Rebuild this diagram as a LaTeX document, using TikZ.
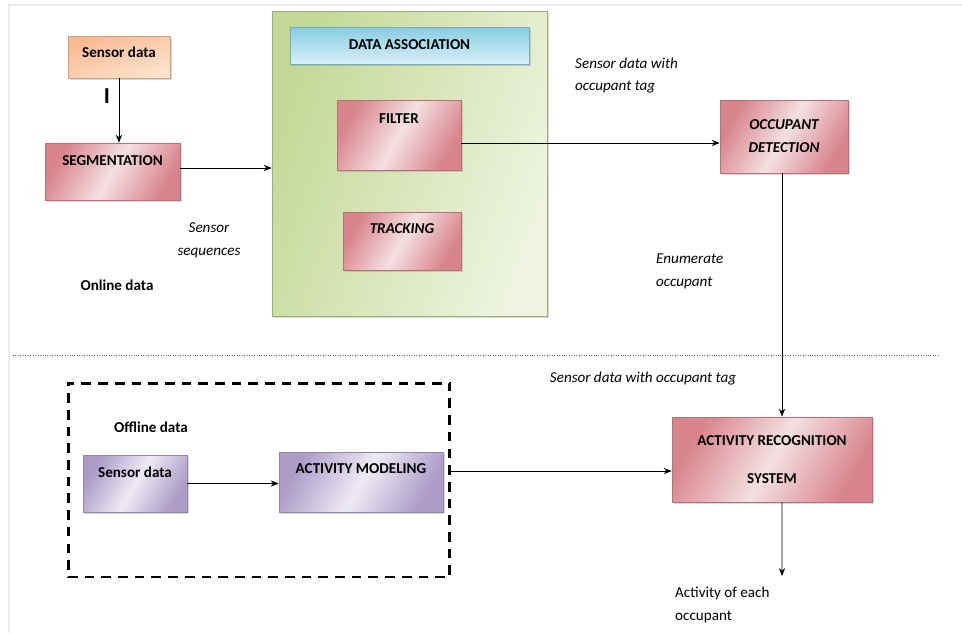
\documentclass[tikz,border=0pt]{standalone}
\usepackage{fontspec}
\setmainfont{Carlito}
\usetikzlibrary{shadows,arrows.meta}

\definecolor{pinkD}{RGB}{216,132,140}
\definecolor{pinkL}{RGB}{244,224,226}
\definecolor{orangeD}{RGB}{250,186,146}
\definecolor{orangeL}{RGB}{253,226,204}
\definecolor{blueD}{RGB}{136,204,226}
\definecolor{blueL}{RGB}{216,240,248}
\definecolor{greenD}{RGB}{196,216,150}
\definecolor{greenL}{RGB}{238,244,224}
\definecolor{purpleD}{RGB}{172,156,200}
\definecolor{purpleL}{RGB}{238,234,244}

\begin{document}
\begin{tikzpicture}[x=0.02cm, y=-0.02cm, >={Stealth[length=4.5pt,width=3.5pt]},
    every node/.style={font=\fontsize{8.6}{13}\selectfont},
    box/.style={rectangle, inner xsep=2pt, inner ysep=0pt, align=center,
        font=\fontsize{8.6}{13}\selectfont\bfseries,
        drop shadow={shadow xshift=1.2pt, shadow yshift=-1.2pt, opacity=0.3}},
    pinkbox/.style={box, draw=pinkD!85!black, left color=pinkD, right color=pinkD, middle color=pinkL, shading angle=60},
    orangebox/.style={box, draw=orangeD!85!black, left color=orangeD, right color=orangeL, shading angle=20},
    bluebox/.style={box, draw=blueD!85!black, top color=blueD, bottom color=blueL},
    purplebox/.style={box, draw=purpleD!85!black, left color=purpleD, right color=purpleD, middle color=purpleL, shading angle=60},
    lbl/.style={align=left, font=\fontsize{8.6}{13}\selectfont\itshape},
    plainlbl/.style={align=left, font=\fontsize{8.6}{13}\selectfont\bfseries}
]
    \useasboundingbox (0,0) rectangle (962,633);
    \draw[black!8, line width=1pt] (9,633) -- (9,5) -- (962,5);

    % Online part
    \node[box, draw=greenD!80!black, left color=greenD, right color=greenL, shading angle=70,
        minimum width=5.5cm, minimum height=6.1cm] (assoc) at (409.5,163.5) {};
    \node[bluebox, minimum width=4.78cm, text height=0.44cm, text depth=0.30cm] (dassoc) at (409.5,45.5) {DATA ASSOCIATION};
    \node[pinkbox, minimum width=2.48cm, text height=0.46cm, text depth=0.94cm] (filter) at (399,135) {FILTER};
    \node[pinkbox, minimum width=2.36cm, text height=0.42cm, text depth=0.74cm] (tracking) at (402,241) {\itshape TRACKING};

    \node[orangebox, minimum width=2.04cm, text height=0.42cm, text depth=0.42cm] (sensor) at (119,57) {Sensor data};
    \node[pinkbox, minimum width=2.7cm, text height=0.44cm, text depth=0.70cm] (seg) at (112.5,171.5) {SEGMENTATION};
    \node[pinkbox, minimum width=2.56cm, minimum height=1.46cm] (occdet) at (784,136.5) {\itshape OCCUPANT\\\itshape DETECTION};

    % Offline part
    \node[draw, dashed, line width=1.7pt, dash pattern=on 5.5pt off 4pt,
        minimum width=7.64cm, minimum height=3.88cm] (offline) at (259,480) {};
    \node[purplebox, minimum width=2.08cm, text height=0.44cm, text depth=0.70cm] (osensor) at (135,483.5) {Sensor data};
    \node[purplebox, minimum width=3.28cm, text height=0.42cm, text depth=0.78cm] (actmod) at (361,482) {ACTIVITY MODELING};
    \node[pinkbox, minimum width=4.0cm, minimum height=1.7cm] (ars) at (772,459.5) {ACTIVITY RECOGNITION\\[8.6pt]SYSTEM};

    % Divider
    \draw[densely dotted, black!60] (13,355) -- (938,355);

    % Connections
    \draw[->] (sensor.south) -- (sensor.south |- seg.north);
    \node[font=\fontsize{13}{13}\selectfont\bfseries] (bar) at (107,96) {I};
    \coordinate (s1) at ([yshift=0.07cm]seg.east);
    \draw[->] (s1) -- (s1 -| assoc.west);
    \coordinate (f1) at ([yshift=-0.16cm]filter.east);
    \draw[->] (f1) -- (f1 -| occdet.west);
    \coordinate (o1) at ([xshift=-0.04cm]occdet.south);
    \draw[->] (o1) -- (o1 |- ars.north);
    \draw[->] (osensor.east) -- (osensor.east -| actmod.west);
    \coordinate (m1) at ([yshift=0.18cm]offline.east);
    \draw[->] (m1) -- (m1 -| ars.west);
    \coordinate (out) at (782,576);
    \draw[->] (o1 |- ars.south) -- (out);

    % Labels
    \node[lbl, align=center] (seqlbl) at (209,240) {Sensor\\sequences};
    \node[plainlbl] (onlbl) at (117,285) {Online data};
    \node[lbl, anchor=west] (taglbl) at (569,75.5) {Sensor data with\\occupant tag};
    \node[lbl, anchor=west] (enumlbl) at (650,271.5) {Enumerate\\occupant};
    \node[lbl] (tag2lbl) at (643,379) {Sensor data with occupant tag};
    \node[plainlbl] (offlbl) at (151,427) {Offline data};
    \node[align=left, anchor=west] (actlbl) at (669,605) {Activity of each\\occupant};
\end{tikzpicture}
\end{document}
